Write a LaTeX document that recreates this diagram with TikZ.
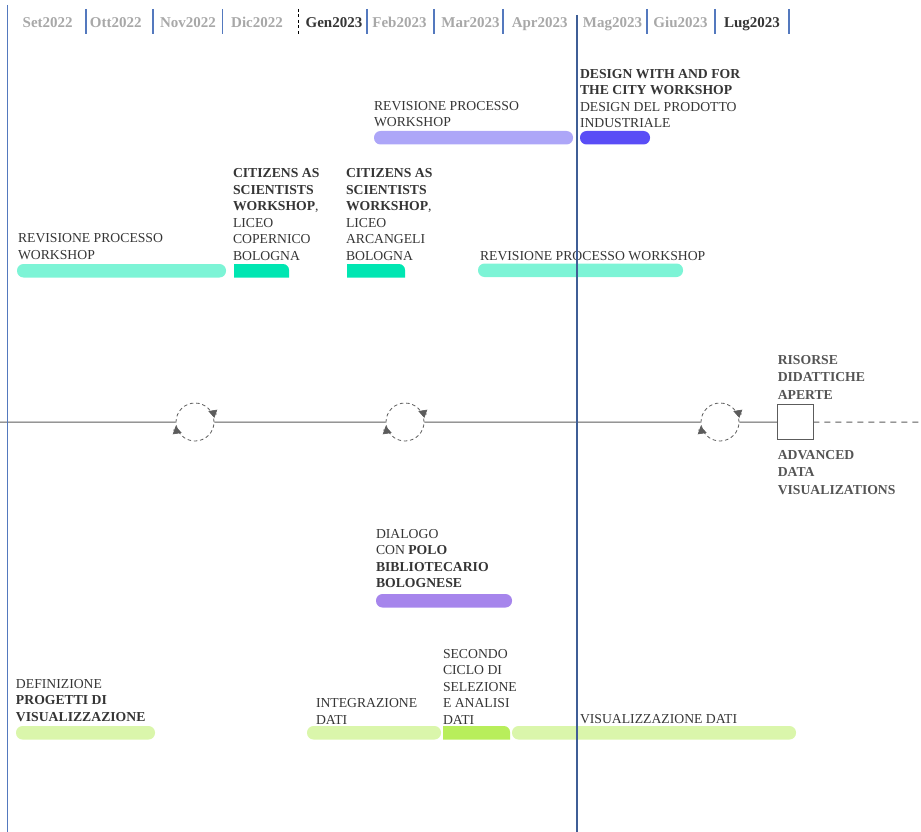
\documentclass[tikz,border=0pt]{standalone}
\usepackage{fontspec}
\setmainfont{Liberation Serif}
\usetikzlibrary{positioning,arrows.meta}

\definecolor{purpL}{HTML}{ADA6F8}
\definecolor{violetD}{HTML}{5A4DF6}
\definecolor{tealL}{HTML}{7DF4D6}
\definecolor{tealD}{HTML}{00E6B2}
\definecolor{lavM}{HTML}{A685EC}
\definecolor{greenL}{HTML}{DAF6AB}
\definecolor{greenB}{HTML}{B8EE5B}
\definecolor{monthgray}{HTML}{A8A8A8}
\definecolor{textdark}{HTML}{353535}
\definecolor{sidegray}{HTML}{555555}
\definecolor{lineg}{HTML}{5C5C5C}
\definecolor{blueL}{HTML}{5479BE}
\definecolor{blueM}{HTML}{3F5E96}

\tikzset{
  month/.style={font=\fontsize{15}{18}\selectfont\bfseries, text=monthgray, anchor=base, inner sep=0pt},
  monthnow/.style={month, text=textdark},
  lbl/.style={font=\fontsize{13.7}{16.5}\selectfont, text=textdark, align=left, inner sep=0pt, outer sep=0pt, text depth=0pt},
  sidelbl/.style={lbl, font=\fontsize{13.7}{17.5}\selectfont\bfseries, text=sidegray},
  bar/.style={rectangle, rounded corners=6.5pt, minimum height=13.5pt, inner sep=0pt, outer sep=0pt, anchor=north west},
  cyc/.style={circle, draw=lineg, line width=0.8pt, dash pattern=on 3.5pt off 2.8pt, minimum size=38pt, inner sep=0pt},
  rot/.style={-{Triangle[length=8pt,width=8.5pt]}, draw=lineg, fill=lineg, line width=0.6pt},
  tline/.style={lineg, line width=1pt},
  tick/.style={blueL, line width=1.2pt},
}

\begin{document}
\begin{tikzpicture}[x=1pt, y=-1pt]
  \useasboundingbox (0,0) rectangle (921,832);

  % months
  \path
    (47.7,27.3) node[month] (mSet) {Set2022}
    (115.7,27.3) node[month] (mOtt) {Ott2022}
    (188,27.3) node[month] (mNov) {Nov2022}
    (257,27.3) node[month] (mDic) {Dic2022}
    (334,27.3) node[monthnow] (mGen) {Gen2023}
    (399.5,27.3) node[month] (mFeb) {Feb2023}
    (470.5,27.3) node[month] (mMar) {Mar2023}
    (539.7,27.3) node[month] (mApr) {Apr2023}
    (612.5,27.3) node[month] (mMag) {Mag2023}
    (680.5,27.3) node[month] (mGiu) {Giu2023}
    (752,27.3) node[monthnow] (mLug) {Lug2023};

  % bars
  \node[bar, fill=purpL, minimum width=199pt] (revTopBar) at (374,131) {};
  \node[bar, fill=violetD, minimum width=70pt] (designBar) at (580,131) {};
  \node[bar, fill=tealL, minimum width=209pt] (revLeftBar) at (17,264) {};
  \node[bar, fill=tealL, minimum width=205pt] (revRightBar) at (478,263.5) {};
  \node[bar, fill=lavM, minimum width=136pt] (dialogoBar) at (376,594) {};
  \node[bar, fill=greenL, minimum width=139pt] (defBar) at (16,726) {};
  \node[bar, fill=greenL, minimum width=134pt] (intBar) at (307,726) {};
  \node[bar, fill=greenL, minimum width=284pt] (visBar) at (512,726) {};
  \coordinate (citABar) at (234,264);
  \coordinate (citBBar) at (347,264);
  \coordinate (secBar) at (443,726);
  \fill[tealD] (234,277.5) |- (283,264) arc[start angle=-90, end angle=0, radius=6] -- (289,277.5) -- cycle;
  \fill[tealD] (347,277.5) |- (399,264) arc[start angle=-90, end angle=0, radius=6] -- (405,277.5) -- cycle;
  \fill[greenB] (443,739.5) |- (504,726) arc[start angle=-90, end angle=0, radius=6] -- (510,739.5) -- cycle;

  % labels
  \node[lbl, above right=4.3pt and 0pt of revTopBar.north west] (revTop) {REVISIONE PROCESSO\\WORKSHOP};
  \node[lbl, above right=3.3pt and 0pt of designBar.north west] (design)
    {\textbf{DESIGN WITH AND FOR}\\\textbf{THE CITY WORKSHOP}\\DESIGN DEL PRODOTTO\\INDUSTRIALE};
  \node[lbl, above right=4pt and -1pt of citABar] (citA)
    {\textbf{CITIZENS AS}\\\textbf{SCIENTISTS}\\\textbf{WORKSHOP},\\LICEO\\COPERNICO\\BOLOGNA};
  \node[lbl, above right=4pt and -1pt of citBBar] (citB)
    {\textbf{CITIZENS AS}\\\textbf{SCIENTISTS}\\\textbf{WORKSHOP},\\LICEO\\ARCANGELI\\BOLOGNA};
  \node[lbl, above right=5pt and 1pt of revLeftBar.north west] (revLeft) {REVISIONE PROCESSO\\WORKSHOP};
  \node[lbl, above right=3.3pt and 2pt of revRightBar.north west] (revRight) {REVISIONE PROCESSO WORKSHOP};
  \node[lbl, above right=6.3pt and 0pt of dialogoBar.north west] (dialogo)
    {DIALOGO\\CON \textbf{POLO}\\\textbf{BIBLIOTECARIO}\\\textbf{BOLOGNESE}};
  \node[lbl, above right=5pt and 0pt of defBar.north west] (def)
    {DEFINIZIONE\\\textbf{PROGETTI DI}\\\textbf{VISUALIZZAZIONE}};
  \node[lbl, above right=2pt and 9pt of intBar.north west] (int) {INTEGRAZIONE\\DATI};
  \node[lbl, above right=2pt and 0pt of secBar] (sec) {SECONDO\\CICLO DI\\SELEZIONE\\E ANALISI\\DATI};
  \node[lbl, above right=3pt and 68pt of visBar.north west] (vis) {VISUALIZZAZIONE DATI};

  % timeline
  \coordinate (tStart) at (0,422);
  \coordinate (tEnd) at (921,422);
  \node[cyc] (cyc1) at (195,422) {};
  \node[cyc] (cyc2) at (405,422) {};
  \node[cyc] (cyc3) at (720,422) {};
  \node[draw=lineg, line width=1pt, minimum size=35.5pt, inner sep=0pt, outer sep=0pt] (res) at (795.5,422.2) {};
  \draw[tline] (tStart) -- (cyc1) -- (cyc2) -- (cyc3) -- (res);
  \draw[tline, dash pattern=on 6pt off 5pt] (res) -- (tEnd);
  \draw[rot] (cyc1.30) ++(5,1.8) -- ++(-8.5,-3);
  \draw[rot] (cyc1.210) ++(-5,-1.8) -- ++(8.5,3);
  \draw[rot] (cyc2.30) ++(5,1.8) -- ++(-8.5,-3);
  \draw[rot] (cyc2.210) ++(-5,-1.8) -- ++(8.5,3);
  \draw[rot] (cyc3.30) ++(5,1.8) -- ++(-8.5,-3);
  \draw[rot] (cyc3.210) ++(-5,-1.8) -- ++(8.5,3);
  \node[sidelbl, above right=5pt and 0pt of res.north west] (risorse) {RISORSE\\DIDATTICHE\\APERTE};
  \node[sidelbl, below right=10pt and 0pt of res.south west] (advanced) {ADVANCED\\DATA\\VISUALIZATIONS};

  % grid lines
  \draw[blueL, line width=1.5pt] (7.5,5) -- (7.5,832);
  \draw[blueM, line width=1.2pt] (577,15) -- (577,832);
  \draw[tick] (86,9) -- (86,34) (153,9) -- (153,34) (222.7,9) -- (222.7,34)
    (367,9) -- (367,34) (434,9) -- (434,34) (503,9) -- (503,34)
    (647,9) -- (647,34) (715,9) -- (715,34) (789,9) -- (789,34);
  \draw[black, line width=1pt, dash pattern=on 3pt off 2.5pt] (298,9) -- (298,34);
\end{tikzpicture}
\end{document}
